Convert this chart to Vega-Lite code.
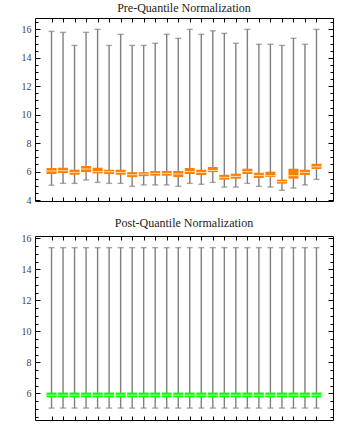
{
  "$schema": "https://vega.github.io/schema/vega-lite/v6.json",
  "padding": {"left": 4, "top": 1, "right": 5, "bottom": 5},
  "spacing": 10,
  "datasets": {
    "pre": [
      {"sample": 1, "min": 5.04, "q1": 5.83, "median": 6.04, "q3": 6.25, "max": 15.86},
      {"sample": 2, "min": 5.17, "q1": 5.90, "median": 6.06, "q3": 6.27, "max": 15.79},
      {"sample": 3, "min": 5.17, "q1": 5.78, "median": 5.94, "q3": 6.13, "max": 14.87},
      {"sample": 4, "min": 5.41, "q1": 5.96, "median": 6.18, "q3": 6.39, "max": 15.79},
      {"sample": 5, "min": 5.24, "q1": 5.87, "median": 6.00, "q3": 6.27, "max": 16.0},
      {"sample": 6, "min": 5.17, "q1": 5.83, "median": 5.99, "q3": 6.13, "max": 14.87},
      {"sample": 7, "min": 5.17, "q1": 5.78, "median": 5.94, "q3": 6.13, "max": 15.65},
      {"sample": 8, "min": 4.96, "q1": 5.61, "median": 5.78, "q3": 5.96, "max": 14.87},
      {"sample": 9, "min": 5.06, "q1": 5.68, "median": 5.83, "q3": 5.96, "max": 14.87},
      {"sample": 10, "min": 5.06, "q1": 5.71, "median": 5.87, "q3": 6.04, "max": 15.02},
      {"sample": 11, "min": 5.06, "q1": 5.71, "median": 5.87, "q3": 6.04, "max": 15.65},
      {"sample": 12, "min": 4.96, "q1": 5.61, "median": 5.83, "q3": 6.04, "max": 15.37},
      {"sample": 13, "min": 5.17, "q1": 5.83, "median": 6.00, "q3": 6.25, "max": 16.0},
      {"sample": 14, "min": 5.10, "q1": 5.76, "median": 5.94, "q3": 6.13, "max": 15.65},
      {"sample": 15, "min": 5.24, "q1": 5.96, "median": 6.08, "q3": 6.32, "max": 15.9},
      {"sample": 16, "min": 4.91, "q1": 5.43, "median": 5.59, "q3": 5.78, "max": 15.72},
      {"sample": 17, "min": 4.91, "q1": 5.50, "median": 5.66, "q3": 5.85, "max": 15.02},
      {"sample": 18, "min": 5.17, "q1": 5.83, "median": 6.00, "q3": 6.20, "max": 16.0},
      {"sample": 19, "min": 4.96, "q1": 5.55, "median": 5.73, "q3": 5.92, "max": 14.95},
      {"sample": 20, "min": 4.91, "q1": 5.61, "median": 5.71, "q3": 5.99, "max": 14.95},
      {"sample": 21, "min": 4.68, "q1": 5.15, "median": 5.29, "q3": 5.43, "max": 14.87},
      {"sample": 22, "min": 4.84, "q1": 5.50, "median": 5.71, "q3": 6.20, "max": 15.37},
      {"sample": 23, "min": 5.06, "q1": 5.76, "median": 5.94, "q3": 6.13, "max": 14.95},
      {"sample": 24, "min": 5.45, "q1": 6.18, "median": 6.34, "q3": 6.55, "max": 16.0}
    ],
    "post": [
      {"sample": 1, "min": 5.05, "q1": 5.74, "median": 5.88, "q3": 6.05, "max": 15.4},
      {"sample": 2, "min": 5.05, "q1": 5.74, "median": 5.88, "q3": 6.05, "max": 15.4},
      {"sample": 3, "min": 5.05, "q1": 5.74, "median": 5.88, "q3": 6.05, "max": 15.4},
      {"sample": 4, "min": 5.05, "q1": 5.74, "median": 5.88, "q3": 6.05, "max": 15.4},
      {"sample": 5, "min": 5.05, "q1": 5.74, "median": 5.88, "q3": 6.05, "max": 15.4},
      {"sample": 6, "min": 5.05, "q1": 5.74, "median": 5.88, "q3": 6.05, "max": 15.4},
      {"sample": 7, "min": 5.05, "q1": 5.74, "median": 5.88, "q3": 6.05, "max": 15.4},
      {"sample": 8, "min": 5.05, "q1": 5.74, "median": 5.88, "q3": 6.05, "max": 15.4},
      {"sample": 9, "min": 5.05, "q1": 5.74, "median": 5.88, "q3": 6.05, "max": 15.4},
      {"sample": 10, "min": 5.05, "q1": 5.74, "median": 5.88, "q3": 6.05, "max": 15.4},
      {"sample": 11, "min": 5.05, "q1": 5.74, "median": 5.88, "q3": 6.05, "max": 15.4},
      {"sample": 12, "min": 5.05, "q1": 5.74, "median": 5.88, "q3": 6.05, "max": 15.4},
      {"sample": 13, "min": 5.05, "q1": 5.74, "median": 5.88, "q3": 6.05, "max": 15.4},
      {"sample": 14, "min": 5.05, "q1": 5.74, "median": 5.88, "q3": 6.05, "max": 15.4},
      {"sample": 15, "min": 5.05, "q1": 5.74, "median": 5.88, "q3": 6.05, "max": 15.4},
      {"sample": 16, "min": 5.05, "q1": 5.74, "median": 5.88, "q3": 6.05, "max": 15.4},
      {"sample": 17, "min": 5.05, "q1": 5.74, "median": 5.88, "q3": 6.05, "max": 15.4},
      {"sample": 18, "min": 5.05, "q1": 5.74, "median": 5.88, "q3": 6.05, "max": 15.4},
      {"sample": 19, "min": 5.05, "q1": 5.74, "median": 5.88, "q3": 6.05, "max": 15.4},
      {"sample": 20, "min": 5.05, "q1": 5.74, "median": 5.88, "q3": 6.05, "max": 15.4},
      {"sample": 21, "min": 5.05, "q1": 5.74, "median": 5.88, "q3": 6.05, "max": 15.4},
      {"sample": 22, "min": 5.05, "q1": 5.74, "median": 5.88, "q3": 6.05, "max": 15.4},
      {"sample": 23, "min": 5.05, "q1": 5.74, "median": 5.88, "q3": 6.05, "max": 15.4},
      {"sample": 24, "min": 5.05, "q1": 5.74, "median": 5.88, "q3": 6.05, "max": 15.4}
    ]
  },
  "vconcat": [
    {
      "title": {"text": "Pre-Quantile Normalization"},
      "width": 298,
      "height": 183,
      "data": {"name": "pre"},
      "resolve": {"axis": {"x": "independent", "y": "independent"}},
      "layer": [
        {
          "mark": {"type": "rule", "color": "#808080", "strokeWidth": 1.4},
          "encoding": {
            "x": {"field": "sample", "type": "quantitative", "scale": {"domain": [0, 25], "nice": false},
              "axis": {"orient": "bottom", "values": [1,2,3,4,5,6,7,8,9,10,11,12,13,14,15,16,17,18,19,20,21,22,23,24], "labels": false, "title": null, "domain": false, "grid": false, "tickSize": -4, "tickColor": "black", "maxExtent": 0, "minExtent": 0}},
            "y": {"field": "min", "type": "quantitative", "scale": {"domain": [3.93, 16.8], "nice": false, "zero": false},
              "axis": {"orient": "left", "title": null, "domain": false, "grid": false,
                "values": [4,4.5,5,5.5,6,6.5,7,7.5,8,8.5,9,9.5,10,10.5,11,11.5,12,12.5,13,13.5,14,14.5,15,15.5,16,16.5],
                "labelExpr": "datum.value % 2 === 0 ? format(datum.value, 'd') : ''",
                "tickSize": {"condition": {"test": "datum.value % 2 === 0", "value": -5}, "value": -3},
                "tickColor": "black", "labelPadding": 9, "minExtent": 30, "maxExtent": 30}},
            "y2": {"field": "max"}
          }
        },
        {
          "mark": {"type": "tick", "orient": "horizontal", "size": 6, "thickness": 1.4, "color": "#808080"},
          "encoding": {
            "x": {"field": "sample", "type": "quantitative", "axis": null},
            "y": {"field": "min", "type": "quantitative", "axis": null}
          }
        },
        {
          "mark": {"type": "tick", "orient": "horizontal", "size": 6, "thickness": 1.4, "color": "#808080"},
          "encoding": {
            "x": {"field": "sample", "type": "quantitative", "axis": null},
            "y": {"field": "max", "type": "quantitative", "axis": null}
          }
        },
        {
          "mark": {"type": "bar", "orient": "vertical", "width": 10, "color": "#FF8000"},
          "encoding": {
            "x": {"field": "sample", "type": "quantitative",
              "axis": {"orient": "top", "values": [1,2,3,4,5,6,7,8,9,10,11,12,13,14,15,16,17,18,19,20,21,22,23,24], "labels": false, "title": null, "domain": false, "grid": false, "tickSize": -4, "tickColor": "black", "maxExtent": 0, "minExtent": 0}},
            "y": {"field": "q1", "type": "quantitative",
              "axis": {"orient": "right", "title": null, "domain": false, "grid": false, "labels": false,
                "values": [4,4.5,5,5.5,6,6.5,7,7.5,8,8.5,9,9.5,10,10.5,11,11.5,12,12.5,13,13.5,14,14.5,15,15.5,16,16.5],
                "tickSize": {"condition": {"test": "datum.value % 2 === 0", "value": -5}, "value": -3},
                "tickColor": "black", "minExtent": 0, "maxExtent": 0}},
            "y2": {"field": "q3"}
          }
        },
        {
          "mark": {"type": "tick", "orient": "horizontal", "size": 10, "thickness": 1, "color": "white"},
          "encoding": {
            "x": {"field": "sample", "type": "quantitative", "axis": null},
            "y": {"field": "median", "type": "quantitative", "axis": null}
          }
        }
      ]
    },
    {
      "title": {"text": "Post-Quantile Normalization"},
      "width": 298,
      "height": 184,
      "data": {"name": "post"},
      "resolve": {"axis": {"x": "independent", "y": "independent"}},
      "layer": [
        {
          "mark": {"type": "rule", "color": "#808080", "strokeWidth": 1.4},
          "encoding": {
            "x": {"field": "sample", "type": "quantitative", "scale": {"domain": [0, 25], "nice": false},
              "axis": {"orient": "bottom", "values": [1,2,3,4,5,6,7,8,9,10,11,12,13,14,15,16,17,18,19,20,21,22,23,24], "labels": false, "title": null, "domain": false, "grid": false, "tickSize": -4, "tickColor": "black", "maxExtent": 0, "minExtent": 0}},
            "y": {"field": "min", "type": "quantitative", "scale": {"domain": [4.28, 16.15], "nice": false, "zero": false},
              "axis": {"orient": "left", "title": null, "domain": false, "grid": false,
                "values": [4.5,5,5.5,6,6.5,7,7.5,8,8.5,9,9.5,10,10.5,11,11.5,12,12.5,13,13.5,14,14.5,15,15.5,16],
                "labelExpr": "datum.value % 2 === 0 ? format(datum.value, 'd') : ''",
                "tickSize": {"condition": {"test": "datum.value % 2 === 0", "value": -5}, "value": -3},
                "tickColor": "black", "labelPadding": 9, "minExtent": 30, "maxExtent": 30}},
            "y2": {"field": "max"}
          }
        },
        {
          "mark": {"type": "tick", "orient": "horizontal", "size": 6, "thickness": 1.4, "color": "#808080"},
          "encoding": {
            "x": {"field": "sample", "type": "quantitative", "axis": null},
            "y": {"field": "min", "type": "quantitative", "axis": null}
          }
        },
        {
          "mark": {"type": "tick", "orient": "horizontal", "size": 6, "thickness": 1.4, "color": "#808080"},
          "encoding": {
            "x": {"field": "sample", "type": "quantitative", "axis": null},
            "y": {"field": "max", "type": "quantitative", "axis": null}
          }
        },
        {
          "mark": {"type": "bar", "orient": "vertical", "width": 10, "color": "#00FF00"},
          "encoding": {
            "x": {"field": "sample", "type": "quantitative",
              "axis": {"orient": "top", "values": [1,2,3,4,5,6,7,8,9,10,11,12,13,14,15,16,17,18,19,20,21,22,23,24], "labels": false, "title": null, "domain": false, "grid": false, "tickSize": -4, "tickColor": "black", "maxExtent": 0, "minExtent": 0}},
            "y": {"field": "q1", "type": "quantitative",
              "axis": {"orient": "right", "title": null, "domain": false, "grid": false, "labels": false,
                "values": [4.5,5,5.5,6,6.5,7,7.5,8,8.5,9,9.5,10,10.5,11,11.5,12,12.5,13,13.5,14,14.5,15,15.5,16],
                "tickSize": {"condition": {"test": "datum.value % 2 === 0", "value": -5}, "value": -3},
                "tickColor": "black", "minExtent": 0, "maxExtent": 0}},
            "y2": {"field": "q3"}
          }
        },
        {
          "mark": {"type": "tick", "orient": "horizontal", "size": 10, "thickness": 1, "color": "white"},
          "encoding": {
            "x": {"field": "sample", "type": "quantitative", "axis": null},
            "y": {"field": "median", "type": "quantitative", "axis": null}
          }
        }
      ]
    }
  ],
  "config": {
    "view": {"stroke": "black", "strokeWidth": 1},
    "font": "Liberation Serif",
    "title": {"font": "Liberation Serif", "fontSize": 12, "fontWeight": "normal", "color": "#222", "offset": 3, "anchor": "middle"},
    "axis": {"labelFont": "Liberation Serif", "labelFontSize": 10, "labelColor": "#444", "tickWidth": 1}
  }
}
